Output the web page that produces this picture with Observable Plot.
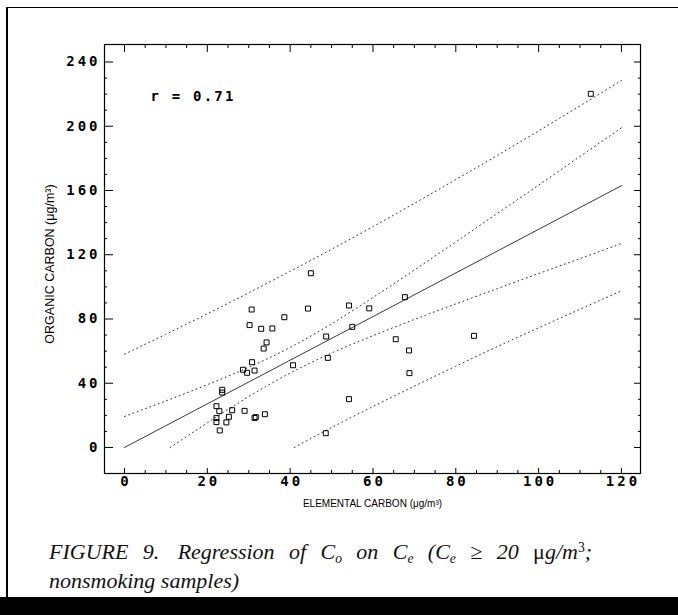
<!DOCTYPE html>
<html><head><meta charset="utf-8">
<script src="https://cdn.jsdelivr.net/npm/d3@7"></script>
<script src="https://cdn.jsdelivr.net/npm/@observablehq/plot@0.6"></script>
<style>
body{margin:0;background:#fff;width:678px;height:615px;overflow:hidden;position:relative;font-family:"Liberation Sans",Arial,sans-serif;}
#box{position:absolute;left:6px;top:7px;width:700px;height:600px;border-left:2.5px solid #000;border-top:1.5px solid #000;}
#band{position:absolute;left:0;top:597px;width:678px;height:18px;background:#000;}
#chart{position:absolute;left:0;top:0;}
#cap{position:absolute;left:49px;top:537px;width:543px;font-family:"Liberation Serif","Times New Roman",serif;font-style:italic;font-size:22px;line-height:29px;color:#111;}
#cap .l1{display:block;text-align:justify;text-align-last:justify;white-space:nowrap;}
#cap .l2{display:block;white-space:nowrap;}
#cap .fig{margin-right:4px;}
#cap sub{font-size:0.62em;vertical-align:-0.3em;line-height:0;}
#cap sup{font-size:0.62em;vertical-align:0.55em;line-height:0;font-style:normal;}
</style></head><body>
<div id="box"></div><div id="band"></div>
<div id="chart"></div>
<div id="cap"><span class="l1"><span class="fig">FIGURE 9.</span> Regression of C<sub>o</sub> on C<sub>e</sub> (C<sub>e</sub> ≥ 20 <span style="font-style:normal">μ</span>g/m<sup>3</sup>;</span><span class="l2">nonsmoking samples)</span></div>
<script>
// Observed samples: elemental carbon (x) and organic carbon (y), µg/m³
const ec = [30.7, 44.3, 54.2, 38.6, 30.2, 33.0, 35.7, 48.7, 34.3, 33.6, 30.8, 28.6, 29.6, 31.4, 40.7, 49.1, 54.2,
            23.6, 23.6, 22.2, 22.9, 26.0, 25.2, 22.2, 22.2, 24.6, 23.0, 29.0, 31.4, 31.7, 33.9, 48.6,
            67.7, 59.1, 55.0, 65.5, 68.7, 68.8, 84.4, 112.6, 45.0];
const oc = [85.9, 86.5, 88.4, 81.1, 76.2, 73.9, 74.1, 69.1, 65.4, 61.6, 53.1, 48.4, 46.5, 47.9, 51.2, 55.8, 30.1,
            35.9, 34.2, 25.7, 22.6, 23.2, 19.1, 18.3, 15.8, 15.6, 10.6, 22.8, 18.4, 18.9, 20.7, 8.9,
            93.6, 86.6, 75.1, 67.4, 60.4, 46.3, 69.5, 220.2, 108.5];

// Regression line
const regX = [0, 120];
const regY = [0, 163];

// Confidence band (inner dotted curves)
const ciUpX = [0, 10, 20, 30, 40, 50, 60, 70, 80, 90, 100, 110, 120];
const ciUpY = [19.3, 29.0, 39.1, 49.9, 62.3, 77.0, 93.4, 110.5, 128.0, 145.7, 163.3, 181.2, 199.0];
const ciLoX = [11, 20, 30, 40, 50, 60, 70, 80, 90, 100, 110, 120];
const ciLoY = [0, 15.3, 31.7, 46.3, 58.8, 69.6, 79.7, 89.4, 98.9, 108.3, 117.6, 127.0];

// Prediction band (outer dotted curves)
const piUpX = [0, 10, 20, 30, 40, 50, 60, 70, 80, 90, 100, 110, 120];
const piUpY = [58.1, 70.5, 83.2, 96.3, 109.7, 123.4, 137.5, 152.0, 166.8, 181.8, 197.1, 212.7, 228.5];
const piLoX = [41, 50, 60, 70, 80, 90, 100, 110, 120];
const piLoY = [0, 12.4, 25.5, 38.2, 50.6, 62.8, 74.5, 86.1, 97.5];

// Ticks
const xMajor = [0, 20, 40, 60, 80, 100, 120];
const xMinor = [5, 10, 15, 25, 30, 35, 45, 50, 55, 65, 70, 75, 85, 90, 95, 105, 110, 115];
const yMajor = [0, 40, 80, 120, 160, 200, 240];
const yMinor = [10, 20, 30, 50, 60, 70, 90, 100, 110, 130, 140, 150, 170, 180, 190, 210, 220, 230];

const rText = "r = 0.71";
const xTitle = "ELEMENTAL CARBON (μg/m³)";
const yTitle = "ORGANIC CARBON (μg/m³)";

const pts = ec.map((x, i) => ({x, y: oc[i]}));
const zip = (xs, ys) => xs.map((x, i) => ({x, y: ys[i]}));

const mono = "'DejaVu Sans Mono', 'Liberation Mono', monospace";
const dotted = {stroke: "#333", strokeWidth: 1, strokeDasharray: "1 3.5", curve: "natural"};
const tickText = {fontFamily: mono, fontWeight: "bold", fontSize: 14, fill: "#000"};

const chart = Plot.plot({
  width: 678, height: 520,
  marginLeft: 104, marginRight: 38, marginTop: 44, marginBottom: 47,
  x: {domain: [-4.83, 124.6]},
  y: {domain: [-16.2, 250.9]},
  style: {background: "transparent", color: "#000"},
  marks: [
    Plot.frame({stroke: "#000", strokeWidth: 1.2}),
    Plot.axisX({anchor: "bottom", ticks: xMajor, tickSize: -5, fill: "none", label: null}),
    Plot.axisX({anchor: "bottom", ticks: xMinor, tickSize: -3, fill: "none", label: null}),
    Plot.axisX({anchor: "top", ticks: xMajor, tickSize: -7, fill: "none", label: null}),
    Plot.axisX({anchor: "top", ticks: xMinor, tickSize: -3, fill: "none", label: null}),
    Plot.axisY({anchor: "left", ticks: yMajor, tickSize: -9, fill: "none", label: null}),
    Plot.axisY({anchor: "left", ticks: yMinor, tickSize: -3, fill: "none", label: null}),
    Plot.axisY({anchor: "right", ticks: yMajor, tickSize: -7, fill: "none", label: null}),
    Plot.axisY({anchor: "right", ticks: yMinor, tickSize: -3, fill: "none", label: null}),
    Plot.axisX({anchor: "bottom", ticks: xMajor, tickSize: 0, tickPadding: 3, label: null,
      tickFormat: d => String(d), dx: 1.5, ...tickText}),
    Plot.axisY({anchor: "left", ticks: yMajor, tickSize: 0, tickPadding: 4, label: null,
      tickFormat: d => String(d), ...tickText}),
    Plot.line(zip(piUpX, piUpY), {x: "x", y: "y", ...dotted}),
    Plot.line(zip(piLoX, piLoY), {x: "x", y: "y", ...dotted}),
    Plot.line(zip(ciUpX, ciUpY), {x: "x", y: "y", ...dotted}),
    Plot.line(zip(ciLoX, ciLoY), {x: "x", y: "y", ...dotted}),
    Plot.line(zip(regX, regY), {x: "x", y: "y", stroke: "#222", strokeWidth: 0.9}),
    Plot.dot(pts, {x: "x", y: "y", symbol: "square", r: 2.8, stroke: "#000", fill: "none", strokeWidth: 1}),
    Plot.text([rText], {text: d => d, frameAnchor: "top-left", dx: 46, dy: 52, textAnchor: "start", lineAnchor: "middle",
      ...tickText}),
    Plot.text([xTitle], {text: d => d, frameAnchor: "bottom", dy: 30, lineAnchor: "middle", fontSize: 10,
      fontFamily: "'Liberation Sans', Arial, sans-serif"}),
    Plot.text([yTitle], {text: d => d, frameAnchor: "left", dx: -55, dy: 5, rotate: -90, textAnchor: "middle",
      lineAnchor: "middle", fontSize: 12.5, fontFamily: "'Liberation Sans', Arial, sans-serif"})
  ]
});
d3.select(chart).selectAll('g[aria-label$="tick label"] text').style("letter-spacing", "3px");
d3.select(chart).selectAll('g[aria-label="text"] text').filter(function(){return this.textContent === rText;}).style("letter-spacing", "2.2px");
document.getElementById("chart").appendChild(chart);
</script>
</body></html>
